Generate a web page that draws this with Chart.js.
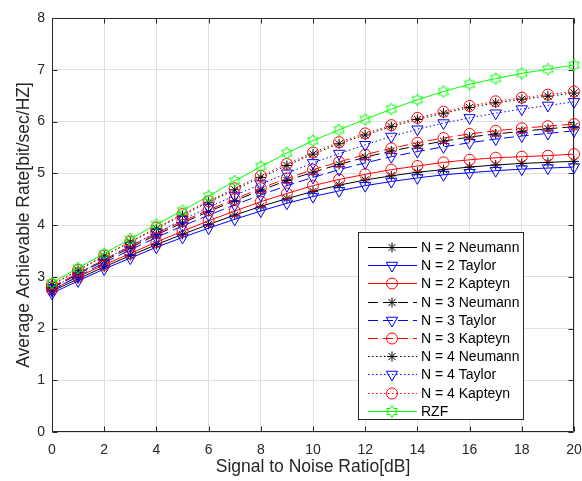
<!DOCTYPE html>
<html>
<head>
<meta charset="utf-8">
<script src="https://cdn.jsdelivr.net/npm/chart.js@4.4.1/dist/chart.umd.min.js"></script>
<style>
html,body{margin:0;padding:0;background:#fff;}
canvas{display:block;}
</style>
</head>
<body>
<canvas id="c" width="582" height="481"></canvas>
<script>
// ---- data ----
const snr = [0,1,2,3,4,5,6,7,8,9,10,11,12,13,14,15,16,17,18,19,20];
const xTicks = [0,2,4,6,8,10,12,14,16,18,20];
const yTicks = [0,1,2,3,4,5,6,7,8];

const neumann2 = [2.72,2.96,3.19,3.41,3.62,3.82,4.01,4.19,4.36,4.51,4.65,4.77,4.87,4.95,5.02,5.07,5.12,5.16,5.19,5.21,5.23];
const taylor2  = [2.68,2.92,3.15,3.36,3.57,3.76,3.94,4.11,4.27,4.42,4.55,4.66,4.76,4.84,4.91,4.97,5.01,5.05,5.08,5.10,5.12];
const kapteyn2 = [2.75,3.00,3.23,3.45,3.67,3.88,4.08,4.27,4.45,4.61,4.76,4.88,4.98,5.07,5.14,5.21,5.26,5.30,5.32,5.34,5.37];
const neumann3 = [2.78,3.05,3.31,3.56,3.81,4.04,4.26,4.47,4.67,4.86,5.02,5.17,5.31,5.43,5.53,5.62,5.70,5.76,5.81,5.86,5.90];
const taylor3  = [2.74,3.01,3.27,3.52,3.76,3.98,4.19,4.39,4.58,4.76,4.92,5.07,5.20,5.32,5.42,5.51,5.59,5.66,5.72,5.77,5.82];
const kapteyn3 = [2.80,3.07,3.33,3.59,3.84,4.07,4.29,4.50,4.71,4.90,5.07,5.22,5.36,5.48,5.59,5.68,5.76,5.82,5.87,5.91,5.95];
const neumann4 = [2.84,3.12,3.40,3.67,3.93,4.19,4.44,4.68,4.92,5.15,5.37,5.57,5.74,5.90,6.04,6.16,6.27,6.36,6.43,6.49,6.55];
const taylor4  = [2.78,3.06,3.33,3.60,3.85,4.10,4.34,4.57,4.79,5.00,5.20,5.38,5.55,5.71,5.85,5.97,6.07,6.16,6.24,6.31,6.38];
const kapteyn4 = [2.85,3.13,3.41,3.68,3.95,4.21,4.46,4.71,4.95,5.18,5.40,5.60,5.77,5.93,6.07,6.19,6.30,6.39,6.46,6.52,6.58];
const rzf      = [2.88,3.17,3.45,3.73,4.01,4.28,4.56,4.85,5.13,5.39,5.63,5.84,6.04,6.24,6.42,6.58,6.72,6.83,6.93,7.01,7.09];

const seriesLabels = ['N = 2 Neumann','N = 2 Taylor','N = 2 Kapteyn','N = 3 Neumann','N = 3 Taylor','N = 3 Kapteyn','N = 4 Neumann','N = 4 Taylor','N = 4 Kapteyn','RZF'];
const seriesValues = [neumann2,taylor2,kapteyn2,neumann3,taylor3,kapteyn3,neumann4,taylor4,kapteyn4,rzf];

// ---- styles ----
const FONT = "'Liberation Sans', Arial, Helvetica, sans-serif";
const TXT = '#262626';
const BLACK = '#000000', BLUE = '#0000ff', RED = '#ff0000', GREEN = '#00ff00';
const SOLID = [], DASH = [10,5], DOT = [1.5,2.5];
const styles = [
  {c:BLACK, d:SOLID, m:'star'}, {c:BLUE, d:SOLID, m:'tri'}, {c:RED, d:SOLID, m:'circle'},
  {c:BLACK, d:DASH,  m:'star'}, {c:BLUE, d:DASH,  m:'tri'}, {c:RED, d:DASH,  m:'circle'},
  {c:BLACK, d:DOT,   m:'star'}, {c:BLUE, d:DOT,   m:'tri'}, {c:RED, d:DOT,   m:'circle'},
  {c:GREEN, d:SOLID, m:'hex'}
];

function hexPath(g, cx, cy, R) {
  const r = R / Math.sqrt(3);
  g.beginPath();
  for (let i = 0; i < 12; i++) {
    const a = -Math.PI/2 + i*Math.PI/6;
    const rr = (i % 2 === 0) ? R : r;
    const px = cx + rr*Math.cos(a), py = cy + rr*Math.sin(a);
    if (i === 0) g.moveTo(px, py); else g.lineTo(px, py);
  }
  g.closePath();
}
function hexagramCanvas(R, color) {
  const s = 16;
  const c = document.createElement('canvas');
  c.width = s; c.height = s;
  const g = c.getContext('2d');
  hexPath(g, s/2, s/2, R);
  g.strokeStyle = color; g.lineWidth = 1; g.stroke();
  return c;
}
const hexImg = hexagramCanvas(6, GREEN);

function pointOpts(st) {
  if (st.m === 'star') return {pointStyle:'star', pointRadius:5, pointRotation:0};
  if (st.m === 'tri') return {pointStyle:'triangle', pointRadius:6.5, pointRotation:180};
  if (st.m === 'circle') return {pointStyle:'circle', pointRadius:5.5, pointRotation:0};
  return {pointStyle: hexImg, pointRadius:6, pointRotation:0};
}

const datasets = seriesValues.map((vals, i) => {
  const st = styles[i];
  return Object.assign({
    label: seriesLabels[i],
    data: snr.map((x, k) => ({x: x, y: vals[k]})),
    borderColor: st.c,
    borderWidth: 1,
    borderDash: st.d,
    backgroundColor: 'rgba(0,0,0,0)',
    pointBorderColor: st.c,
    pointBackgroundColor: 'rgba(0,0,0,0)',
    pointBorderWidth: 1,
    pointHoverRadius: 6,
    tension: 0,
    fill: false,
    clip: false,
    order: 9 - i
  }, pointOpts(st));
});

// ---- legend marker drawing ----
function drawMarker(ctx, m, x, y, color) {
  ctx.save();
  ctx.globalAlpha = 1;
  ctx.strokeStyle = color; ctx.lineWidth = 1; ctx.setLineDash([]);
  ctx.beginPath();
  if (m === 'star') {
    const r = 5;
    for (let k = 0; k < 4; k++) {
      const a = k*Math.PI/4;
      ctx.moveTo(x - r*Math.cos(a), y - r*Math.sin(a));
      ctx.lineTo(x + r*Math.cos(a), y + r*Math.sin(a));
    }
    ctx.stroke();
  } else if (m === 'tri') {
    const r = 6.5;
    for (let k = 0; k < 3; k++) {
      const a = Math.PI + k*2*Math.PI/3;
      const px = x + Math.sin(a)*r, py = y - Math.cos(a)*r;
      if (k === 0) ctx.moveTo(px, py); else ctx.lineTo(px, py);
    }
    ctx.closePath(); ctx.stroke();
  } else if (m === 'circle') {
    ctx.arc(x, y, 5.5, 0, Math.PI*2); ctx.stroke();
  } else {
    hexPath(ctx, x, y, 6); ctx.stroke();
  }
  ctx.restore();
}

// legend sample line built from filled rectangles following the dash pattern
function drawSampleLine(ctx, x0, x1, y, pattern, color) {
  ctx.save();
  ctx.fillStyle = color;
  if (!pattern.length) {
    ctx.fillRect(x0, y, x1 - x0, 1);
  } else {
    let x = x0, k = 0, on = true;
    while (x < x1) {
      const len = pattern[k % pattern.length];
      if (on) ctx.fillRect(x, y, Math.min(len, x1 - x), 1);
      x += len; k++; on = !on;
    }
  }
  ctx.restore();
}

const framePlugin = {
  id: 'frame',
  beforeDatasetsDraw(chart) {
    const {ctx, chartArea: a, scales} = chart;
    const xs = scales.x, ys = scales.y;
    const L = Math.round(a.left) + 0.5, R = Math.round(a.right) - 0.5;
    const T = Math.round(a.top) + 0.5, B = Math.round(a.bottom) - 0.5;
    ctx.save();
    ctx.strokeStyle = TXT; ctx.lineWidth = 1; ctx.setLineDash([]);
    ctx.beginPath();
    ctx.rect(L, T, R - L, B - T);
    const tl = 5;
    xTicks.forEach(v => {
      const px = Math.round(xs.getPixelForValue(v)) + 0.5;
      ctx.moveTo(px, B); ctx.lineTo(px, B - tl);
      ctx.moveTo(px, T); ctx.lineTo(px, T + tl);
    });
    yTicks.forEach(v => {
      const py = Math.round(ys.getPixelForValue(v)) + 0.5;
      ctx.moveTo(L, py); ctx.lineTo(L + tl, py);
      ctx.moveTo(R, py); ctx.lineTo(R - tl, py);
    });
    ctx.stroke();
    ctx.restore();
  },
  afterDraw(chart) {
    const ctx = chart.ctx;
    const bx = 358.5, by = 232.5, bw = 165, bh = 187;
    ctx.save();
    ctx.globalAlpha = 1;
    ctx.fillStyle = '#ffffff';
    ctx.fillRect(bx, by, bw, bh);
    ctx.strokeStyle = TXT; ctx.lineWidth = 1; ctx.setLineDash([]);
    ctx.strokeRect(bx, by, bw, bh);
    ctx.restore();
    seriesLabels.forEach((lab, i) => {
      const st = styles[i];
      const y = Math.round(247 + i*18.2);
      drawSampleLine(ctx, 368, 417, y, st.d, st.c);
      drawMarker(ctx, st.m, 392, y + 0.5, st.c);
      ctx.save();
      ctx.font = '14px ' + FONT;
      ctx.textBaseline = 'middle';
      ctx.textAlign = 'left';
      ctx.fillStyle = '#000000';
      ctx.fillText(lab, 421, y + 1);
      ctx.restore();
    });
  }
};

new Chart(document.getElementById('c'), {
  type: 'line',
  data: {datasets},
  plugins: [framePlugin],
  options: {
    responsive: false,
    animation: false,
    devicePixelRatio: 1,
    layout: {padding: {left: 0, right: 8, top: 18, bottom: 0}},
    plugins: {legend: {display: false}, tooltip: {enabled: false}},
    scales: {
      x: {
        type: 'linear', min: 0, max: 20,
        afterFit(s) { s.height = 49; s.paddingRight = 0; s.paddingLeft = 0; },
        afterBuildTicks(s) { s.ticks = xTicks.map(v => ({value: v})); },
        grid: {color: '#dfdfdf', lineWidth: 1, drawTicks: false},
        border: {display: false},
        ticks: {color: TXT, font: {family: FONT, size: 14}, padding: 10, maxRotation: 0, autoSkip: false},
        title: {display: true, text: 'Signal to Noise Ratio[dB]', color: TXT, font: {family: FONT, size: 17.5}, padding: {top: 0, bottom: 3}}
      },
      y: {
        type: 'linear', min: 0, max: 8,
        afterFit(s) { s.width = 52; s.paddingTop = 0; s.paddingBottom = 0; },
        afterBuildTicks(s) { s.ticks = yTicks.map(v => ({value: v})); },
        grid: {color: '#dfdfdf', lineWidth: 1, drawTicks: false},
        border: {display: false},
        ticks: {color: TXT, font: {family: FONT, size: 14}, padding: 7, autoSkip: false},
        title: {display: true, text: 'Average Achievable Rate[bit/sec/HZ]', color: TXT, font: {family: FONT, size: 17.5}, padding: {top: 13.5, bottom: 0}}
      }
    }
  }
});
</script>
</body>
</html>
